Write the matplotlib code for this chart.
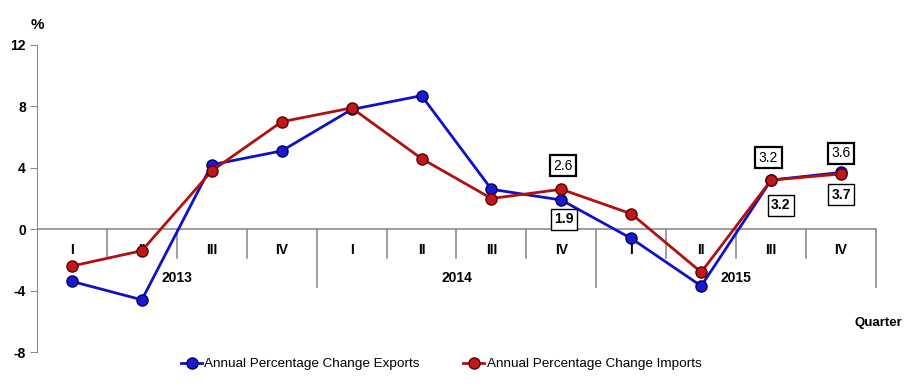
import numpy as np
import matplotlib
matplotlib.use("Agg")
import matplotlib.pyplot as plt

plt.rcParams['font.family'] = ['Liberation Sans', 'DejaVu Sans']
plt.rcParams['axes.unicode_minus'] = False

# data
quarters = ['I', 'II', 'III', 'IV'] * 3
years = ['2013', '2014', '2015']
exports = [-3.4, -4.6, 4.2, 5.1, 7.8, 8.7, 2.6, 1.9, -0.6, -3.7, 3.2, 3.7]
imports = [-2.4, -1.4, 3.8, 7.0, 7.9, 4.6, 2.0, 2.6, 1.0, -2.8, 3.2, 3.6]
labelled = [7, 10, 11]   # points with boxed value labels

blue = '#1010c8'
red = '#b01010'
grey = '#8c8c8c'

fig = plt.figure(figsize=(9.11, 3.91), dpi=100)
ax = fig.add_axes([37 / 911, 39 / 391, 839 / 911, 307 / 391])

x = np.arange(len(quarters))
ax.plot(x, exports, '-o', color=blue, lw=2, ms=8, mfc='#1a1acc', mec='#00006a',
        mew=1, label='Annual Percentage Change Exports', zorder=3)
ax.plot(x, imports, '-o', color=red, lw=2, ms=8, mfc='#c01818', mec='#5a0000',
        mew=1, label='Annual Percentage Change Imports', zorder=4)

ax.set_xlim(-0.5, len(quarters) - 0.5)
ax.set_ylim(-8, 12)
ax.set_yticks(np.arange(-8, 13, 4))
ax.tick_params(axis='y', length=5, color=grey, labelsize=10, pad=3)
for t in ax.get_yticklabels():
    t.set_fontweight('bold')
ax.set_xticks([])
for s in ['top', 'right', 'bottom']:
    ax.spines[s].set_visible(False)
ax.spines['left'].set_color(grey)

# category axis drawn at y = 0 with two levels
ax.axhline(0, color=grey, lw=1.2, zorder=1)
for b in np.arange(0.5, len(quarters), 1):
    deep = (b + 0.5) % 4 == 0
    ax.plot([b, b], [0, -3.78 if deep else -1.9], color=grey, lw=1.2,
            clip_on=False, zorder=1)
for i, q in enumerate(quarters):
    ax.text(i, -1.37, q, ha='center', va='center', fontsize=10,
            fontweight='bold', zorder=2)
for j, yr in enumerate(years):
    ax.text(4 * j + 1.5, -3.2, yr, ha='center', va='center', fontsize=10,
            fontweight='bold', zorder=2)

# value labels (offsets in points)
up_off = {7: (1, 17), 10: (-2, 16), 11: (0, 15)}
down_off = {7: (2, -14), 10: (7, -18), 11: (0, -16)}
for i in labelled:
    ax.annotate(f'{imports[i]:.1f}', (i, imports[i]), xytext=up_off[i],
                textcoords='offset points', ha='center', va='center', fontsize=10,
                bbox=dict(boxstyle='square,pad=0.25', fc='white', ec='black', lw=1.6))
    ax.annotate(f'{exports[i]:.1f}', (i, exports[i]), xytext=down_off[i],
                textcoords='offset points', ha='center', va='center', fontsize=10,
                fontweight='bold',
                bbox=dict(boxstyle='square,pad=0.25', fc='white', ec='black', lw=1))

fig.text(37 / 911, 1 - 25 / 391, '%', ha='center', va='center', fontsize=11,
         fontweight='bold')
fig.text(878 / 911, 1 - 323 / 391, 'Quarter', ha='center', va='center',
         fontsize=9.5, fontweight='bold')

fig.legend(loc='center', bbox_to_anchor=(441 / 911, 1 - 364 / 391), ncol=2,
           frameon=False, fontsize=9.7, handlelength=1.6, handletextpad=0.15,
           columnspacing=3.2)

fig.savefig('out.png', dpi=100)
